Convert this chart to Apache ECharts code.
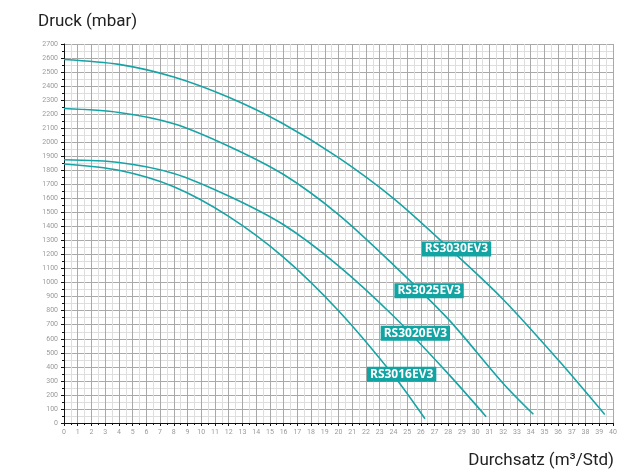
<!DOCTYPE html>
<html><head><meta charset="utf-8">
<script src="https://cdn.jsdelivr.net/npm/echarts@6/dist/echarts.min.js"></script>
<style>html,body{margin:0;padding:0;background:#fff}#c{width:635px;height:471px}</style>
</head><body><div id="c"></div>
<script>
const seriesNames = ['RS3030EV3','RS3025EV3','RS3020EV3','RS3016EV3'];
const rs3030 = [[0,2590],[4,2555],[8,2465],[12,2320],[16,2130],[20,1890],[24,1600],[28,1250],[32,880],[36,450],[39.4,60]];
const rs3025 = [[0,2240],[4,2212],[8,2132],[12,1972],[16,1770],[20,1485],[24,1127],[28,740],[32,282],[34.2,62]];
const rs3020 = [[0,1875],[4,1856],[8,1778],[12,1617],[16,1412],[20,1120],[24,762],[28,350],[30.76,45]];
const rs3016 = [[0,1845],[4,1800],[8,1683],[12,1472],[16,1180],[20,800],[24,340],[26.3,30]];
const labelPos = [[28.6,1240],[26.6,942],[25.6,639],[24.6,348]];
const xTicks = {min:0, max:40, step:1};
const yTicks = {min:0, max:2700, step:100};
const yTitle = 'Druck (mbar)';
const xTitle = 'Durchsatz (m³/Std)';

const teal = '#17a4a6';
const data = [rs3030, rs3025, rs3020, rs3016];
const chart = echarts.init(document.getElementById('c'), null, {renderer:'canvas'});
chart.setOption({
  animation:false,
  backgroundColor:'#fff',
  title:[
    {text:yTitle, left:33, top:8, textStyle:{fontFamily:'Roboto', fontSize:17, fontWeight:'normal', color:'#222'}},
    {text:xTitle, right:16, top:447, textStyle:{fontFamily:'Roboto', fontSize:17, fontWeight:'normal', color:'#222'}}
  ],
  grid:{left:64, right:22, top:44, bottom:48, containLabel:false},
  xAxis:{
    type:'value', min:xTicks.min, max:xTicks.max, interval:xTicks.step,
    axisLine:{show:true, lineStyle:{color:'#111', width:1}},
    axisTick:{show:true, length:3, lineStyle:{color:'#111'}},
    minorTick:{show:true, splitNumber:2, length:2, lineStyle:{color:'#111'}},
    splitLine:{show:true, lineStyle:{color:'#a9a9a9', width:1}},
    minorSplitLine:{show:true, lineStyle:{color:'#dedede', width:1}},
    axisLabel:{fontSize:7, color:'#9a9a9a', margin:6, fontFamily:'Roboto', formatter:v=>String(v)}
  },
  yAxis:{
    type:'value', min:yTicks.min, max:yTicks.max, interval:yTicks.step,
    axisLine:{show:true, lineStyle:{color:'#111', width:1}},
    axisTick:{show:true, length:3, lineStyle:{color:'#111'}},
    minorTick:{show:true, splitNumber:2, length:2, lineStyle:{color:'#111'}},
    splitLine:{show:true, lineStyle:{color:'#a9a9a9', width:1}},
    minorSplitLine:{show:true, lineStyle:{color:'#dedede', width:1}},
    axisLabel:{fontSize:7, color:'#9a9a9a', margin:6, fontFamily:'Roboto', formatter:v=>String(v)}
  },
  series: seriesNames.map((n,i)=>({
    name:n, type:'line', data:data[i], smooth:0.3,
    showSymbol:false, symbol:'none',
    lineStyle:{color:teal, width:1.6},
    markPoint:{
      symbol:'rect', symbolSize:[0,0],
      data:[{coord:labelPos[i]}],
      label:{show:true, formatter:n, color:'#fff', fontWeight:'bold', fontSize:12,
        fontFamily:'Open Sans', backgroundColor:'#12a3a3', padding:[2,3,1,3], position:'inside'}
    }
  }))
});
</script></body></html>
